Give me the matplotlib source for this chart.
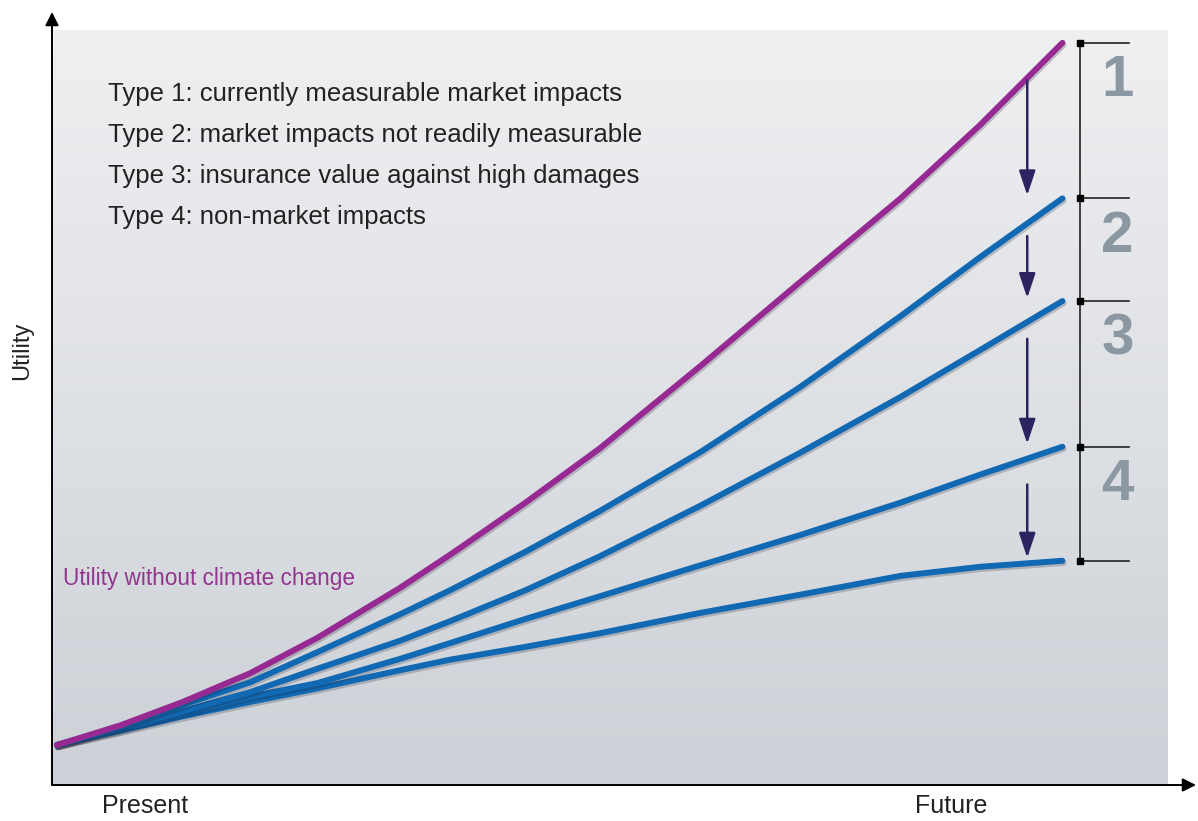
import numpy as np
import matplotlib
matplotlib.use("Agg")
import matplotlib.pyplot as plt
import matplotlib.patheffects as pe
from matplotlib.patches import FancyArrowPatch

plt.rcParams["font.family"] = ["Liberation Sans", "DejaVu Sans"]

# time axis (0 = present, 100 = future)
t = [0, 6.3, 12.5, 19.2, 25.9, 34.1, 39.1, 46.6, 54.0, 64.0, 73.9, 83.9, 91.8, 100]

# utility (0 = x axis, 100 = top of the grey panel)
no_climate_change = [5.3, 7.9, 11.0, 14.8, 19.5, 26.1, 30.5, 37.4, 44.6, 55.5,
                     66.6, 77.7, 87.4, 98.3]
after_type1 = [5.3, 7.7, 10.6, 13.6, 17.6, 22.6, 25.8, 30.9, 36.3, 44.1,
               52.7, 62.1, 69.9, 77.7]
after_type2 = [5.3, 7.5, 9.8, 12.3, 15.4, 19.1, 21.7, 25.8, 30.3, 37.0,
               44.0, 51.4, 57.6, 64.1]
after_type3 = [5.3, 7.3, 9.5, 11.7, 13.5, 16.7, 18.8, 22.0, 25.0, 29.1,
               33.1, 37.4, 41.1, 44.8]
after_type4 = [5.3, 7.2, 9.1, 11.0, 12.8, 15.2, 16.6, 18.3, 20.1, 22.8,
               25.2, 27.7, 28.9, 29.7]

type_labels = [
    "Type 1: currently measurable market impacts",
    "Type 2: market impacts not readily measurable",
    "Type 3: insurance value against high damages",
    "Type 4: non-market impacts",
]
bracket_numbers = ["1", "2", "3", "4"]

PURPLE = "#962a92"
BLUE = "#1169b3"
NAVY = "#2b2460"
GREY_NUM = "#8b98a2"

W, H = 1198, 821


def fx(px):
    return px / W


def fy(py):
    return 1 - py / H


fig = plt.figure(figsize=(W / 100, H / 100), dpi=100)
ax = fig.add_axes([fx(52), fy(785), fx(1168) - fx(52), fy(30) - fy(785)])
ax.set_xlim(-0.5, 110.5)
ax.set_ylim(0, 100)
ax.axis("off")

# grey gradient panel
grad = np.linspace(0, 1, 256).reshape(-1, 1)
top = np.array([0.941, 0.941, 0.949])
bottom = np.array([0.800, 0.820, 0.843])
img = bottom + (top - bottom) * grad
ax.imshow(img[:, None, :].repeat(2, axis=1), extent=[-0.5, 110.5, 0, 100],
          origin="lower", aspect="auto", zorder=0)

shadow = [pe.SimpleLineShadow(offset=(0.8, -1.6), shadow_color="#1a1a2a", alpha=0.22),
          pe.Normal()]

for c in [after_type4, after_type3, after_type2, after_type1]:
    ax.plot(t, c, color=BLUE, lw=4.3, solid_capstyle="round",
            solid_joinstyle="round", path_effects=shadow, zorder=3)
ax.plot(t, no_climate_change, color=PURPLE, lw=4.3, solid_capstyle="round",
        solid_joinstyle="round", path_effects=shadow, zorder=4)

# arrows between curve ends
ends = [no_climate_change[-1], after_type1[-1], after_type2[-1],
        after_type3[-1], after_type4[-1]]
for hi, lo in zip(ends[:-1], ends[1:]):
    ax.annotate("", xy=(96.5, lo + 0.4), xytext=(96.5, hi - 5.0),
                arrowprops=dict(arrowstyle="-|>,head_length=1.5,head_width=0.5",
                                color=NAVY, lw=1.8, shrinkA=0, shrinkB=0),
                zorder=5)

# bracket on the right
ax.plot([101.7, 101.7], [ends[-1], ends[0]], color="#222222", lw=1.2, zorder=5)
for e in ends:
    ax.plot([101.7, 106.6], [e, e], color="#222222", lw=1.2, zorder=5)
ax.plot([101.7] * len(ends), ends, "s", color="black", ms=4.5, zorder=6)
for num, hi in zip(bracket_numbers, ends[:-1]):
    ax.text(105.5, hi - 5.1, num, fontsize=42, fontweight="bold",
            color=GREY_NUM, ha="center", va="center", zorder=6)

# list of impact types
for i, lab in enumerate(type_labels):
    fig.text(fx(108), fy(94 + i * 41), lab, fontsize=18.5, color="#222222",
             ha="left", va="center")

ax.text(0.6, 27.3, "Utility without climate change", fontsize=16.3,
        color="#93358f", ha="left", va="center", zorder=6)

# axes with arrow heads
for end in [(fx(52), fy(12)), (fx(1196), fy(785))]:
    fig.add_artist(FancyArrowPatch(
        (fx(52), fy(785)), end, transform=fig.transFigure,
        arrowstyle="-|>,head_length=8,head_width=4", color="black", lw=1.4,
        shrinkA=0, shrinkB=0))

fig.text(fx(22), fy(351), "Utility", rotation=90, fontsize=17,
         color="#222222", ha="center", va="center")
fig.text(fx(145), fy(806), "Present", fontsize=18, color="#222222",
         ha="center", va="center")
fig.text(fx(951), fy(806), "Future", fontsize=18, color="#222222",
         ha="center", va="center")

fig.savefig("out.png", dpi=100)
